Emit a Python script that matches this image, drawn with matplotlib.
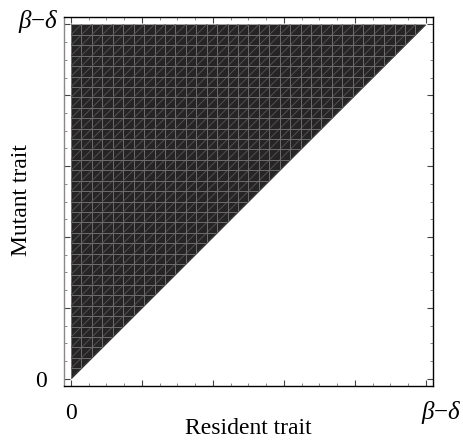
import numpy as np
import matplotlib.pyplot as plt
from matplotlib.ticker import MultipleLocator, FixedLocator
from matplotlib.patches import Polygon

plt.rcParams["font.family"] = ["Liberation Serif", "DejaVu Serif"]
plt.rcParams["mathtext.fontset"] = "custom"
plt.rcParams["mathtext.it"] = "Liberation Serif:italic"
plt.rcParams["mathtext.rm"] = "Liberation Serif"

# pairwise invasibility: mutant invades when mutant trait > resident trait
resident = [0.0, 1.0]
boundary = [0.0, 1.0]
major_ticks = [0.0, 0.2, 0.4, 0.6, 0.8, 1.0]
end_label = "$\\beta$\u2212$\\delta$"

fig = plt.figure(figsize=(4.64, 4.44), dpi=100)
ax = fig.add_axes([0.137, 0.131, 0.796, 0.830])

ax.fill_between(resident, boundary, 1.0, color="#262424", lw=0, zorder=1)

# mesh texture of the region plot
clip = Polygon([(0, 0), (1, 1), (0, 1)], closed=True, transform=ax.transData)
n = 34
for v in np.linspace(0, 1, n + 1):
    for xs, ys, c in (([v, v], [0, 1], "#6e6e6e"),
                      ([0, 1], [v, v], "#6e6e6e"),
                      ([0, 1], [v, 1 + v], "#505050")):
        ln = ax.plot(xs, ys, color=c, lw=0.7, zorder=2)[0]
        ln.set_clip_path(clip)

ax.set_xlim(-0.021, 1.02)
ax.set_ylim(-0.02, 1.02)

for axis in (ax.xaxis, ax.yaxis):
    axis.set_major_locator(FixedLocator(major_ticks))
    axis.set_minor_locator(MultipleLocator(0.05))
ax.set_xticklabels(["0"] + [""] * 5)
ax.set_yticklabels(["0"] + [""] * 5)

ax.tick_params(which="major", direction="in", length=4, width=0.8, color="#444444",
               top=True, right=True, labelsize=17)
ax.tick_params(which="minor", direction="in", length=2, width=0.6, color="#777777",
               top=True, right=True)
ax.tick_params(axis="x", which="major", pad=12)
ax.tick_params(axis="y", which="major", pad=12)

# the end labels sit a little off their ticks, as in the source
ax.annotate(end_label, xy=(resident[1], 0), xycoords=("data", "axes fraction"),
            xytext=(11, -19), textcoords="offset points",
            ha="center", va="center", fontsize=18)
ax.annotate(end_label, xy=(0, boundary[1]), xycoords=("axes fraction", "data"),
            xytext=(-3, 2), textcoords="offset points",
            ha="right", va="center", fontsize=18)

for s in ("top", "bottom", "right"):
    ax.spines[s].set_color("black")
    ax.spines[s].set_linewidth(1.0)
ax.spines["left"].set_color("#888888")
ax.spines["left"].set_linewidth(1.0)

fig.text(248 / 464, 1 - 428 / 444, "Resident trait", fontsize=17,
         ha="center", va="center")
fig.text(22 / 464, 1 - 200 / 444, "Mutant trait", fontsize=17,
         ha="center", va="center", rotation=90)

fig.savefig("out.png", dpi=100)
